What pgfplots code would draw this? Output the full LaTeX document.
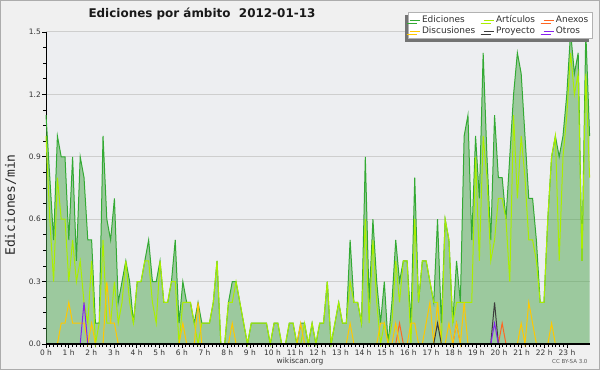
\documentclass[border=0pt]{standalone}
\usepackage{pgfplots}
\pgfplotsset{compat=1.18}
\usepackage{pgfplotstable}
\usepackage{fontspec}
\setmainfont{DejaVu Sans}
\newfontfamily\monofont{DejaVu Sans Mono}
\usetikzlibrary{shadows}
\definecolor{outerbg}{RGB}{240,240,240}
\definecolor{plotbg}{RGB}{237,238,241}
\definecolor{gridc}{RGB}{206,206,206}
\definecolor{areag}{RGB}{76,166,76}
\definecolor{edic}{RGB}{51,170,51}
\definecolor{artc}{RGB}{170,238,0}
\definecolor{disc}{RGB}{255,200,0}
\definecolor{anxc}{RGB}{255,102,34}
\definecolor{proc}{RGB}{60,60,60}
\definecolor{otrc}{RGB}{136,34,238}

\pgfplotstableread{
i tot art dis anx pro otr
0 1.1 1.0 0 0 0 0
1 0.8 0.6 0 0 0 0
2 0.5 0.3 0 0 0 0
3 1.0 0.8 0 0 0 0
4 0.9 0.6 0.1 0 0 0
5 0.9 0.6 0.1 0 0 0
6 0.5 0.3 0.2 0 0 0
7 0.9 0.5 0.1 0 0 0
8 0.4 0.3 0.1 0 0 0
9 0.9 0.4 0.1 0 0 0
10 0.8 0.2 0.1 0 0 0.2
11 0.5 0.1 0 0 0 0
12 0.5 0.4 0.1 0 0 0
13 0.1 0.0 0 0 0 0
14 0.1 0.1 0 0 0 0
15 1.0 0.5 0 0 0 0
16 0.6 0.1 0.3 0 0 0
17 0.5 0.1 0.1 0 0 0
18 0.7 0.3 0.1 0 0 0
19 0.2 0.1 0 0 0 0
20 0.3 0.2 0 0 0 0
21 0.4 0.4 0 0 0 0
22 0.3 0.2 0 0 0 0
23 0.1 0.1 0 0 0 0
24 0.3 0.3 0 0 0 0
25 0.3 0.3 0 0 0 0
26 0.4 0.4 0 0 0 0
27 0.5 0.4 0 0 0 0
28 0.3 0.2 0 0 0 0
29 0.3 0.1 0 0 0 0
30 0.4 0.4 0 0 0 0
31 0.2 0.2 0 0 0 0
32 0.2 0.2 0 0 0 0
33 0.3 0.3 0 0 0 0
34 0.5 0.3 0 0 0 0
35 0.1 0.0 0 0 0 0
36 0.3 0.2 0.1 0 0 0
37 0.2 0.2 0 0 0 0
38 0.2 0.2 0 0 0 0
39 0.1 0.1 0 0 0 0
40 0.2 0.0 0.2 0 0 0
41 0.1 0.1 0 0 0 0
42 0.1 0.1 0 0 0 0
43 0.1 0.1 0 0 0 0
44 0.2 0.2 0 0 0 0
45 0.4 0.4 0 0 0 0
46 0.0 0.0 0 0 0 0
47 0.0 0.0 0 0 0 0
48 0.2 0.2 0 0 0 0
49 0.3 0.2 0.1 0 0 0
50 0.3 0.3 0 0 0 0
51 0.2 0.2 0 0 0 0
52 0.1 0.1 0 0 0 0
53 0.0 0.0 0 0 0 0
54 0.1 0.1 0 0 0 0
55 0.1 0.1 0 0 0 0
56 0.1 0.1 0 0 0 0
57 0.1 0.1 0 0 0 0
58 0.1 0.1 0 0 0 0
59 0.0 0.0 0 0 0 0
60 0.1 0.1 0 0 0 0
61 0.1 0.1 0 0 0 0
62 0.0 0.0 0 0 0 0
63 0.0 0.0 0 0 0 0
64 0.1 0.1 0 0 0 0
65 0.1 0.1 0 0 0 0
66 0.0 0.0 0 0 0 0
67 0.1 0.0 0.1 0 0 0
68 0.1 0.1 0 0 0 0
69 0.0 0.0 0 0 0 0
70 0.1 0.1 0 0 0 0
71 0.0 0.0 0 0 0 0
72 0.1 0.1 0 0 0 0
73 0.1 0.1 0 0 0 0
74 0.3 0.3 0 0 0 0
75 0.0 0.0 0 0 0 0
76 0.1 0.1 0 0 0 0
77 0.2 0.2 0 0 0 0
78 0.1 0.1 0 0 0 0
79 0.1 0.1 0 0 0 0
80 0.5 0.3 0.1 0 0 0
81 0.2 0.2 0 0 0 0
82 0.2 0.2 0 0 0 0
83 0.1 0.1 0 0 0 0
84 0.9 0.6 0 0 0 0
85 0.2 0.1 0 0 0 0
86 0.6 0.5 0 0 0 0
87 0.3 0.2 0 0 0 0
88 0.1 0.0 0.1 0 0 0
89 0.3 0.1 0.1 0 0 0
90 0.0 0.0 0 0 0 0
91 0.2 0.1 0 0 0 0
92 0.5 0.4 0.1 0 0 0
93 0.3 0.2 0 0.1 0 0
94 0.4 0.4 0 0 0 0
95 0.4 0.4 0 0 0 0
96 0.1 0.0 0.1 0 0 0
97 0.8 0.6 0.1 0 0 0
98 0.2 0.2 0 0 0 0
99 0.4 0.4 0 0 0 0
100 0.4 0.4 0.1 0 0 0
101 0.3 0.3 0.2 0 0 0
102 0.2 0.2 0 0 0 0
103 0.6 0.2 0.2 0 0.1 0
104 0.1 0.0 0 0 0 0
105 0.6 0.6 0 0 0 0
106 0.5 0.5 0.1 0 0 0
107 0.1 0.1 0 0 0 0
108 0.4 0.2 0.1 0.1 0 0
109 0.2 0.2 0 0 0 0
110 1.0 0.2 0.2 0 0 0
111 1.1 0.2 0 0 0 0
112 0.5 0.2 0 0 0 0
113 1.0 0.9 0 0 0 0
114 0.7 0.4 0 0 0 0
115 1.4 1.0 0 0 0 0
116 0.9 0.8 0 0 0 0
117 0.5 0.4 0 0 0 0
118 1.1 0.5 0 0 0.2 0.1
119 0.8 0.7 0 0 0 0
120 0.8 0.7 0 0.1 0 0
121 0.6 0.6 0 0 0 0
122 0.9 0.3 0 0 0 0
123 1.2 1.1 0 0 0 0
124 1.4 0.7 0 0 0 0
125 1.3 1.0 0.1 0 0 0
126 1.0 0.8 0 0 0 0
127 0.7 0.5 0.2 0 0 0
128 0.7 0.5 0.1 0 0 0
129 0.5 0.4 0 0 0 0
130 0.2 0.2 0 0 0 0
131 0.2 0.2 0 0 0 0
132 0.6 0.6 0 0 0 0
133 0.9 0.9 0.1 0 0 0
134 1.0 1.0 0 0 0 0
135 0.9 0.4 0 0 0 0
136 1.0 0.9 0 0 0 0
137 1.2 1.1 0 0 0 0
138 1.5 1.4 0 0 0 0
139 1.3 1.2 0 0 0 0
140 1.4 1.3 0 0 0 0
141 0.4 0.4 0 0 0 0
142 1.5 1.3 0 0 0 0
143 1.0 0.8 0 0 0 0
}\data

\begin{document}
\begin{tikzpicture}
\fill[outerbg] (0,0) rectangle (600bp,370bp);
\draw[gray!65, line width=1.2bp] (0.6bp,0.6bp) rectangle (599.4bp,369.4bp);
\begin{axis}[
  at={(46bp,26bp)}, anchor=south west, scale only axis,
  width=543.6bp, height=312bp,
  xmin=0, xmax=24, ymin=0, ymax=1.5,
  clip=false,
  axis lines*=left,
  axis background/.style={fill=plotbg},
  axis line style={black, line width=1bp},
  ymajorgrids,
  grid style={gridc, line width=1bp},
  xtick={0,1,...,23},
  xticklabels={0 h,1 h,2 h,3 h,4 h,5 h,6 h,7 h,8 h,9 h,10 h,11 h,12 h,13 h,14 h,15 h,16 h,17 h,18 h,19 h,20 h,21 h,22 h,23 h},
  minor x tick num=5,
  ytick={0,0.3,0.6,0.9,1.2,1.5},
  yticklabels={0.0,0.3,0.6,0.9,1.2,1.5},
  minor y tick num=3,
  /pgf/number format/assume math mode=true,
  tick align=outside,
  major tick length=4bp, minor tick length=3bp,
  tick style={black, line width=0.7bp},
  ticklabel style={font=\fontsize{7.5}{8}\selectfont, text=black!80},
  xticklabel style={inner sep=1bp, yshift=-0.5bp},
  yticklabel style={inner sep=1bp},
  legend columns=3,
  legend cell align=left,
  legend style={at={(1.0044,1.064)}, anchor=north east, draw=gray!60, fill=white,
    font=\fontsize{9}{10}\selectfont, text=black!80, inner sep=1.5bp, row sep=-1.5bp,
    drop shadow={shadow xshift=-3bp, shadow yshift=-3bp, fill=black!55, opacity=1},
    /tikz/every even column/.append style={column sep=6bp}},
  legend image code/.code={\draw[#1, line width=0.8bp] (0bp,0bp) -- (10bp,0bp);},
]
\addplot[draw=none, fill=areag, fill opacity=0.5, forget plot] table[x expr=\thisrow{i}*24/143, y=tot]{\data} \closedcycle;
\addplot[edic, line width=1bp] table[x expr=\thisrow{i}*24/143, y=tot]{\data};
\addlegendentry{Ediciones}
\addplot[artc, line width=1bp] table[x expr=\thisrow{i}*24/143, y=art]{\data};
\addlegendentry{Artículos}
\addplot[anxc, line width=1bp] table[x expr=\thisrow{i}*24/143, y=anx]{\data};
\addlegendentry{Anexos}
\addplot[disc, line width=1bp] table[x expr=\thisrow{i}*24/143, y=dis]{\data};
\addlegendentry{Discusiones}
\addplot[proc, line width=1bp] table[x expr=\thisrow{i}*24/143, y=pro]{\data};
\addlegendentry{Proyecto}
\addplot[otrc, line width=1bp] table[x expr=\thisrow{i}*24/143, y=otr]{\data};
\addlegendentry{Otros}
\draw[black, line width=1.2bp] (rel axis cs:0,0) -- (rel axis cs:1,0);
\end{axis}
\node[anchor=base west, font=\bfseries\fontsize{12}{14}\selectfont, text=black!90] at (85bp,352bp) {Ediciones por ámbito\hspace{0.7em}2012-01-13};
\node[rotate=90, font=\monofont\fontsize{13}{15}\selectfont, text=black!85] at (10.5bp,165bp) {Ediciones/min};
\node[font=\fontsize{7.5}{9}\selectfont, text=black!80] at (300bp,9bp) {wikiscan.org};
\node[anchor=east, font=\fontsize{5.5}{7}\selectfont, text=black!65] at (591bp,8bp) {CC BY-SA 3.0};
\end{tikzpicture}
\end{document}
